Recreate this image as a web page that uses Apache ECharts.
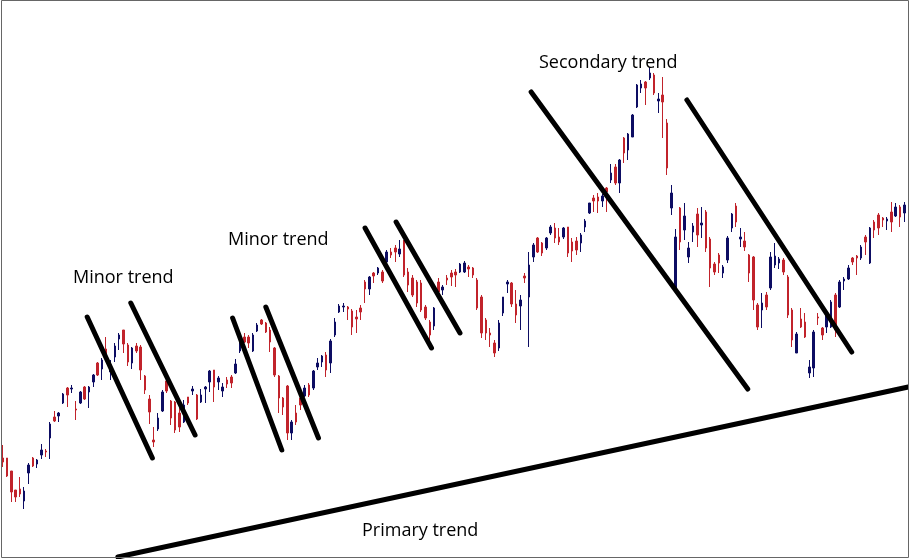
<!DOCTYPE html>
<html>
<head>
<meta charset="utf-8">
<script src="https://cdn.jsdelivr.net/npm/echarts@6/dist/echarts.min.js"></script>
<style>
    html, body { margin: 0; padding: 0; background: #fff; }
    #trendChart { width: 910px; height: 559px; }
</style>
</head>
<body>
<div id="trendChart"></div>
<script>
    // one candle per session: [open, close, low, high]
    var candles = [
        [101, 97, 92, 114], [101, 83, 82, 101], [88, 67, 57, 88], [69, 62, 57, 69], [70, 65, 62, 82],
        [58, 68, 50, 72], [86, 94, 75, 96], [101, 93, 92, 102], [95, 99, 91, 100], [104, 109, 100, 115],
        [108, 107, 102, 110], [121, 135, 100, 137], [142, 138, 137, 148], [143, 146, 137, 147], [156, 165, 155, 166],
        [171, 164, 152, 172], [170, 171, 166, 174], [150, 149, 139, 158], [156, 167, 155, 168], [172, 160, 159, 173],
        [167, 172, 151, 173], [177, 184, 172, 185], [196, 184, 183, 197], [190, 199, 179, 201], [210, 201, 199, 222],
        [187, 194, 179, 199], [202, 213, 197, 216], [220, 224, 209, 226], [229, 215, 206, 229], [214, 197, 193, 216],
        [196, 211, 190, 212], [213, 208, 206, 216], [212, 189, 179, 214], [183, 169, 165, 184], [160, 147, 135, 164],
        [119, 117, 112, 132], [130, 141, 128, 146], [148, 167, 147, 169], [178, 168, 166, 179], [158, 141, 134, 159],
        [157, 129, 126, 158], [146, 132, 127, 153], [137, 154, 136, 159], [162, 156, 154, 162], [168, 170, 164, 173],
        [164, 140, 139, 165], [157, 164, 156, 170], [170, 172, 156, 173], [177, 188, 167, 189], [189, 172, 157, 189],
        [177, 181, 169, 183], [168, 172, 162, 176], [179, 175, 171, 182], [182, 176, 171, 184], [186, 195, 185, 200],
        [208, 216, 206, 221], [222, 217, 216, 226], [222, 216, 211, 224], [208, 224, 207, 226], [228, 234, 227, 236],
        [239, 235, 234, 240], [236, 227, 226, 237], [229, 217, 207, 232], [211, 184, 182, 212], [183, 161, 146, 184],
        [161, 152, 144, 162], [173, 126, 119, 174], [126, 137, 119, 139], [146, 137, 134, 154], [161, 154, 149, 162],
        [163, 171, 162, 174], [174, 164, 162, 176], [171, 188, 169, 189], [192, 196, 189, 201], [197, 203, 192, 204],
        [204, 189, 182, 207], [196, 218, 186, 220], [224, 237, 222, 241], [247, 253, 246, 255], [252, 253, 247, 256],
        [252, 250, 239, 253], [248, 232, 224, 250], [242, 240, 226, 249], [251, 247, 239, 254], [277, 270, 256, 279],
        [270, 282, 264, 283], [286, 283, 276, 287], [286, 291, 284, 292], [287, 278, 276, 289], [297, 307, 296, 309],
        [307, 304, 301, 311], [311, 307, 297, 314], [305, 310, 302, 319], [318, 284, 282, 319], [287, 274, 267, 291],
        [281, 264, 262, 284], [277, 256, 252, 279], [276, 249, 247, 279], [252, 241, 239, 254], [237, 224, 219, 239],
        [233, 251, 229, 252], [277, 267, 264, 281], [269, 272, 264, 274], [281, 279, 274, 284], [286, 282, 273, 289],
        [287, 284, 272, 290], [287, 295, 286, 296], [287, 296, 286, 298], [292, 290, 282, 294], [291, 284, 281, 292],
        [279, 251, 249, 281], [262, 226, 221, 264], [239, 226, 219, 241], [226, 224, 212, 231], [216, 206, 202, 219],
        [211, 236, 208, 239], [246, 262, 243, 262], [275, 277, 266, 279], [276, 255, 252, 277], [255, 244, 236, 269],
        [253, 259, 229, 264], [283, 281, 276, 286], [262, 294, 212, 307], [302, 314, 297, 316], [321, 307, 306, 322],
        [316, 306, 303, 317], [311, 321, 309, 322], [326, 332, 324, 334], [331, 321, 316, 336], [322, 317, 314, 331],
        [322, 331, 320, 332], [332, 306, 302, 332], [317, 308, 297, 321], [318, 309, 304, 322], [316, 324, 307, 326],
        [332, 338, 327, 340], [346, 356, 345, 356], [361, 358, 347, 364], [362, 358, 346, 366], [358, 363, 352, 365],
        [371, 367, 347, 372], [379, 386, 376, 395], [392, 376, 374, 395], [376, 399, 366, 400], [421, 406, 396, 422],
        [409, 425, 399, 426], [422, 444, 422, 445], [452, 474, 451, 475], [471, 475, 466, 479], [477, 471, 454, 478],
        [481, 486, 479, 492], [484, 466, 464, 486], [458, 460, 446, 466], [464, 457, 421, 482], [436, 391, 384, 440],
        [351, 366, 344, 374], [269, 322, 267, 330], [351, 317, 309, 352], [329, 343, 319, 356], [302, 311, 296, 317],
        [327, 333, 317, 336], [345, 324, 312, 351], [334, 336, 321, 352], [347, 311, 307, 349], [320, 291, 272, 322],
        [295, 287, 284, 297], [304, 296, 286, 306], [286, 292, 281, 294], [299, 321, 296, 323], [331, 345, 327, 346],
        [353, 337, 332, 356], [320, 322, 312, 331], [318, 312, 308, 327], [304, 286, 277, 305], [302, 259, 249, 303],
        [254, 232, 229, 256], [249, 256, 231, 266], [264, 252, 249, 267], [271, 302, 269, 307], [294, 303, 291, 316],
        [296, 300, 290, 302], [299, 287, 284, 301], [282, 244, 241, 284], [249, 219, 212, 251], [206, 225, 206, 227],
        [240, 232, 231, 251], [237, 222, 221, 246], [186, 192, 181, 199], [191, 227, 182, 229], [242, 241, 234, 246],
        [231, 224, 219, 232], [232, 246, 226, 247], [232, 257, 231, 259], [264, 229, 222, 266], [252, 277, 251, 279],
        [278, 280, 269, 282], [280, 291, 279, 294], [301, 297, 294, 302], [303, 301, 284, 304], [301, 312, 299, 314],
        [322, 317, 304, 324], [296, 331, 295, 332], [337, 329, 321, 339], [344, 331, 324, 346], [341, 339, 332, 342],
        [338, 340, 329, 342], [347, 337, 327, 357], [343, 352, 342, 356], [352, 342, 332, 354], [346, 354, 337, 357]
    ];

    // trend lines drawn by hand on the chart: [[session, price], [session, price]]
    var minorLines = [
        [[19.6, 242], [34.7, 101]],
        [[29.7, 256], [44.6, 124]],
        [[53.3, 241], [64.7, 109]],
        [[61.0, 252], [73.2, 121]],
        [[84.0, 331], [99.4, 211]],
        [[91.2, 337], [106.0, 226]]
    ];
    var secondaryLines = [
        [[122.5, 467], [172.7, 170]],
        [[158.6, 459], [196.8, 207]]
    ];
    var primaryLine = [[26.7, 2], [209.9, 172]];

    var trendLabels = [
        {text: 'Minor trend', x: 73, y: 278},
        {text: 'Minor trend', x: 228, y: 240},
        {text: 'Secondary trend', x: 539, y: 63},
        {text: 'Primary trend', x: 362, y: 531}
    ];

    var sessions = candles.map(function (c, i) { return String(i + 1); });

    var myChart = echarts.init(document.getElementById('trendChart'));

    var trendSeries = minorLines.concat(secondaryLines, [primaryLine]).map(function (pts) {
        return {
            type: 'line',
            xAxisIndex: 1,
            data: pts,
            symbol: 'none',
            silent: true,
            clip: false,
            z: 5,
            lineStyle: {
                color: '#000',
                width: 5,
                cap: 'round'
            }
        };
    });

    var option = {
        backgroundColor: '#fff',
        animation: false,
        grid: {
            left: 0.5,
            right: 3.5,
            top: 0,
            bottom: 0
        },
        xAxis: [
            {
                type: 'category',
                data: sessions,
                boundaryGap: true,
                show: false
            },
            {
                type: 'value',
                min: -0.5,
                max: candles.length - 0.5,
                show: false
            }
        ],
        yAxis: {
            type: 'value',
            min: 0,
            max: 559,
            show: false
        },
        series: [
            {
                type: 'candlestick',
                data: candles,
                barWidth: 2,
                silent: true,
                itemStyle: {
                    color: '#0d0d63',
                    color0: '#c1232b',
                    borderColor: '#0d0d63',
                    borderColor0: '#c1232b',
                    borderWidth: 1
                }
            }
        ].concat(trendSeries),
        graphic: [
            {
                type: 'rect',
                shape: {x: 1.5, y: 0.5, width: 907, height: 557},
                style: {fill: null, stroke: '#666', lineWidth: 1},
                silent: true,
                z: 10
            }
        ].concat(trendLabels.map(function (l) {
            return {
                type: 'text',
                x: l.x,
                y: l.y,
                silent: true,
                z: 10,
                style: {
                    text: l.text,
                    fill: '#000',
                    font: '18px "Open Sans"',
                    verticalAlign: 'middle'
                }
            };
        }))
    };

    myChart.setOption(option);
</script>
</body>
</html>
